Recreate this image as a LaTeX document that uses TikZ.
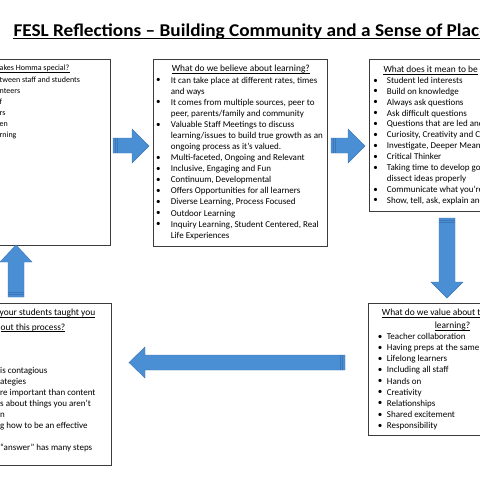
\documentclass[tikz,border=0pt]{standalone}
\usepackage{fontspec}
\setmainfont{Carlito}
\definecolor{arrowblue}{RGB}{74,143,211}
\definecolor{arrowedge}{RGB}{60,118,184}
\definecolor{boxline}{RGB}{60,60,60}
\begin{document}
\begin{tikzpicture}[x=1pt,y=-1pt,
  txt/.style={font=\fontsize{9.0}{11}\selectfont, inner sep=0pt, anchor=mid west},
  stxt/.style={font=\fontsize{8.0}{11}\selectfont, inner sep=0pt, anchor=mid west},
  htxt/.style={font=\fontsize{9.4}{11}\selectfont, inner sep=0pt, anchor=mid west},
  ctxt/.style={font=\fontsize{9.4}{11}\selectfont, inner sep=0pt, anchor=mid},
  bul/.style={font=\fontsize{9.0}{11}\selectfont, inner sep=0pt, anchor=center},
  boxdraw/.style={draw=boxline, line width=0.8pt},
  blockarrow/.style={fill=arrowblue, draw=arrowedge, line width=0.4pt, line join=miter},
  stripe/.style={draw=arrowedge, line width=0.5pt},
  uline/.style={line width=0.5pt}]
\useasboundingbox (0,0) rectangle (480,480);
\fill[white] (0,0) rectangle (480,480);
\begin{scope}
\clip (0,0) rectangle (480,480);
% title
\node[anchor=base west, inner sep=0pt, xscale=1.07, font=\bfseries\fontsize{18}{21}\selectfont] (title) at (13.3,36.5) {FESL Reflections – Building Community and a Sense of Place};
\draw[line width=0.9pt] ([yshift=-2.3pt]title.base west) -- ([yshift=-2.3pt]title.base east);

% boxes
\draw[boxdraw] (-5,59) rectangle (110,245);
\draw[boxdraw] (153,59) rectangle (327,246);
\draw[boxdraw] (369,59) rectangle (490,211);
\draw[boxdraw] (368,303) rectangle (490,435);
\draw[boxdraw] (-5,303) rectangle (111,465);

% box 1
\node[stxt] (b1h) at (-0.5,68.3) {akes Homma special?};
\draw[uline] ([yshift=-1.5pt]b1h.base west) -- ([yshift=-1.5pt]b1h.base east);
\foreach \y/\t [count=\k] in {80/{tween staff and students},91/{nteers},101.7/{f},112.7/{rs},124.3/{en},135/{rning}}
  \node[stxt] (b1t\k) at (-0.5,\y) {\t};

% box 2
\node[ctxt] (b2h) at (240.8,69.5) {What do we believe about learning?};
\draw[uline] ([yshift=-1.5pt]b2h.base west) -- ([yshift=-1.5pt]b2h.base east);
\foreach \i/\b/\t in {0/1/{It can take place at different rates, times},1/0/{and ways},2/1/{It comes from multiple sources, peer to},3/0/{peer, parents/family and community},4/1/{Valuable Staff Meetings to discuss},5/0/{learning/issues to build true growth as an},6/0/{ongoing process as it’s valued.},7/1/{Multi-faceted, Ongoing and Relevant},8/1/{Inclusive, Engaging and Fun},9/1/{Continuum, Developmental},10/1/{Offers Opportunities for all learners},11/1/{Diverse Learning, Process Focused},12/1/{Outdoor Learning},13/1/{Inquiry Learning, Student Centered, Real},14/0/{Life Experiences}}{
  \node[txt] (b2t\i) at (170.7,{80.7+11.08*\i}) {\t};
  \ifnum\b=1 \node[bul] (b2b\i) at (158.3,{80.7+11.08*\i}) {•};\fi
}

% box 3
\node[htxt] (b3h) at (383.3,70) {What does it mean to be};
\draw[uline] ([yshift=-1.5pt]b3h.base west) -- ([yshift=-1.5pt]b3h.base east);
\foreach \i/\b/\t in {0/1/{Student led interests},1/1/{Build on knowledge},2/1/{Always ask questions},3/1/{Ask difficult questions},4/1/{Questions that are led and},5/1/{Curiosity, Creativity and Co},6/1/{Investigate, Deeper Meani},7/1/{Critical Thinker},8/1/{Taking time to develop goo},9/0/{dissect ideas properly},10/1/{Communicate what you’re},11/1/{Show, tell, ask, explain and}}{
  \node[txt] (b3t\i) at (386.7,{81+10.9*\i}) {\t};
  \ifnum\b=1 \node[bul] (b3b\i) at (375.7,{81+10.9*\i}) {•};\fi
}

% box 4
\node[htxt] (b4h) at (381.7,313.3) {What do we value about t};
\draw[uline] ([yshift=-1.5pt]b4h.base west) -- ([yshift=-1.5pt]b4h.base east);
\node[ctxt] (b4h2) at (452.5,326) {learning?};
\draw[uline] ([yshift=-1.5pt]b4h2.base west) -- ([yshift=-1.5pt]b4h2.base east);
\foreach \t [count=\i from 0] in {Teacher collaboration,Having preps at the same t,Lifelong learners,Including all staff,Hands on,Creativity,Relationships,Shared excitement,Responsibility}{
  \node[txt] (b4t\i) at (386.7,{337.3+11.1*\i}) {\t};
  \node[bul] (b4b\i) at (380,{337.3+11.1*\i}) {•};
}

% box 5
\node[htxt] (b5h) at (-0.5,313.3) {your students taught you};
\draw[uline] ([yshift=-1.5pt]b5h.base west) -- ([yshift=-1.5pt]b5h.base east);
\node[htxt] (b5h2) at (0.5,327.7) {out this process?};
\draw[uline] ([yshift=-1.5pt]b5h2.base west) -- ([yshift=-1.5pt]b5h2.base east);
\foreach \y/\t [count=\k] in {370.7/{is contagious},381.7/{ategies},392.7/{re important than content},403.7/{s about things you aren’t},414.7/{n},425.7/{g how to be an effective},447.7/{“answer” has many steps}}
  \node[txt] (b5t\k) at (0,\y) {\t};

% arrows
\draw[blockarrow] (113,138) -- (132,138) -- (132,129) -- (149,146) -- (132,163) -- (132,153) -- (113,153) -- cycle;
\draw[stripe] (115.5,138) -- (115.5,153) (117.5,138) -- (117.5,153);
\draw[blockarrow] (331,138) -- (348,138) -- (348,129) -- (365,146) -- (348,163) -- (348,153) -- (331,153) -- cycle;
\draw[stripe] (333.5,138) -- (333.5,153) (335.5,138) -- (335.5,153);
\draw[blockarrow] (439,218) -- (439,282) -- (431,282) -- (447,298) -- (463,282) -- (455,282) -- (455,218) -- cycle;
\draw[stripe] (439,220.5) -- (455,220.5) (439,222.5) -- (455,222.5);
\draw[blockarrow] (8,297) -- (8,262) -- (0,262) -- (16,245) -- (32,262) -- (24,262) -- (24,297) -- cycle;
\draw[stripe] (8,294.5) -- (24,294.5) (8,292.5) -- (24,292.5);
\draw[blockarrow] (345,355) -- (145,355) -- (145,347) -- (129,362.5) -- (145,378) -- (145,370) -- (345,370) -- cycle;
\draw[stripe] (342.5,355) -- (342.5,370) (340.5,355) -- (340.5,370);
\end{scope}
\end{tikzpicture}
\end{document}
